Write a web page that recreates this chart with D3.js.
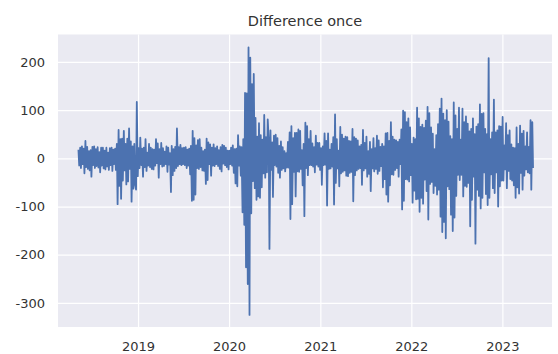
<!DOCTYPE html>
<html>
<head>
<meta charset="utf-8">
<script src="https://cdn.jsdelivr.net/npm/d3@7"></script>
<style>
  body { margin: 0; background: #fff; }
  text { font-family: "DejaVu Sans", sans-serif; fill: #333; }
</style>
</head>
<body>
<div id="chart"></div>
<script>
// two readings per week (monday, thursday), starting week of 2018-05-07
const firstWeek = '2018-05-07';

const diff2018 = [
  18, -15, 22, -20, 25, -12, 20, -31, 36, -18, 24, -22, 15, -25, 17, -38,
  24, -14, 25, -20, 19, -16, 23, -19, 13, -29, 22, -15, 22, -21, 16, -23,
  22, -17, 12, -24, 21, -14, 22, -26, 18, -12, 20, -24, 30, -95, 59, -57,
  40, -84, 41, -46, 57, -25, 30, -54, 41, -48, 62, -22, 35, -90, 25, -63,
  30, -54, -65, 117
];

const diff2019 = [
  -37, 21, -20, 43, -14, 20, -38, 22, -18, 40, -26, 12, -15, 30, -18, 22,
  -22, 19, -23, 18, -15, 40, -10, 31, -40, 19, -12, 32, -17, 21, -16, 14,
  -12, 25, -28, 22, -13, 11, -70, 26, -35, 19, -26, 24, -20, 62, -16, 23,
  -12, 28, -14, 21, -12, 22, -14, 23, -20, 18, -15, 20, -33, 26, -88, 57,
  -86, 42, -75, 27, -20, 38, -22, 40, -18, 22, -25, 15, -26, 18, -53, 41,
  -45, 33, -12, 29, -36, 22, -15, 29, -16, 21, -12, 25, -16, 17, -22, 23,
  -27, 28, -11, 26, -14, 22, -18, 16
];

const diff2020 = [
  -23, 16, -12, 22, -15, 27, -30, 19, -52, 20, -58, 48, -15, 25, -36, 23,
  -112, 40, -138, 136, -226, 135, -261, 230, -325, 209, -114, 154, -47, 175, -62, 84,
  -86, 45, -79, 73, -82, 48, -60, 39, -31, 90, -40, 44, -29, 81, 38, -188,
  58, -24, 33, -80, 47, -14, 49, -17, 42, -30, 26, -40, 35, -24, 23, -21,
  15, -27, 11, -19, 34, -19, 54, -126, 67, -95, 42, -28, 53, -79, 53, -27,
  60, -28, 57, -22, 17, -56, 30, -120, 74, -20, 67, -35, 40, -14, 57, -14,
  31, -17, 23, -29, 47, -13, 32, -17
];

const diff2021 = [
  32, -24, 21, -55, 25, -14, 52, -13, 36, -98, 52, -22, 18, -21, 30, -17,
  44, -96, 91, -51, 40, -21, 16, -58, 65, -31, 49, -28, 41, -25, 45, -36,
  44, -37, 36, -30, 35, -28, 61, -89, 44, -35, 41, -25, 37, -22, 25, -20,
  28, -55, 59, -25, 32, -21, 45, -38, 15, -32, 34, -68, 19, -21, 42, -27,
  21, -22, 47, -32, 37, -26, 24, -16, 30, -60, 25, -43, 52, -75, 53, -90,
  36, -56, 75, -33, 45, -34, 39, -24, 37, -20, 34, -38, 39, -12, 60, -106,
  99, -88, 96, -43, 75, -44, 83, -48
];

const diff2022 = [
  64, -35, 30, -92, 43, -67, 40, -85, 105, -84, 83, -111, 65, -82, 70, -94,
  63, -44, 78, -68, 107, -127, 94, -53, 64, -49, 51, -72, 19, -57, 48, -75,
  71, -65, 103, -121, 124, -153, 93, -132, 79, -166, 100, -58, 76, -64, 46, -117,
  40, -151, 116, -123, 89, -78, 61, -34, 105, -45, 39, -34, 103, -79, 75, -57,
  87, -59, 72, -51, 56, -141, 61, -86, 83, -38, 50, -177, 66, -65, 71, -78,
  112, -104, 92, -82, 94, -29, 61, -74, 50, -97, 208, -82, 40, -33, 54, -62,
  122, -72, 54, -29, 58, -100, 67, -58
];

const diff2023 = [
  66, -46, 86, -46, 27, -23, 73, -62, 48, -26, 58, -43, 29, -46, 22, -56,
  21, -82, 64, -60, 30, -73, 68, -30, 51, -65, 57, -36, 25, -23, 54, -29,
  24, -31, 79, -65, 75, -20
];

const yTicks = [200, 100, 0, -100, -200, -300];
const xTickYears = [2019, 2020, 2021, 2022, 2023];

const draw = () => {
    const values = [...diff2018, ...diff2019, ...diff2020, ...diff2021, ...diff2022, ...diff2023];
    const start = d3.timeParse('%Y-%m-%d')(firstWeek);
    const dataSet = values.map((value, i) => ({
        date: d3.timeDay.offset(start, Math.floor(i / 2) * 7 + (i % 2) * 3),
        value
    }));

    const xAccessor = d => d.date;
    const yAccessor = d => d.value;

    // dimensions
    const dimensions = {
        width: 558,
        height: 354,
        margin: {
            top: 34.5,
            bottom: 27,
            left: 58,
            right: 6,
        }
    }
    dimensions.containerWidth = dimensions.width - dimensions.margin.left - dimensions.margin.right;
    dimensions.containerHeight = dimensions.height - dimensions.margin.top - dimensions.margin.bottom;

    const svg = d3.select('#chart')
        .append('svg')
        .attr('width', dimensions.width)
        .attr('height', dimensions.height);

    const container = svg.append('g')
        .attr('transform', `translate(${dimensions.margin.left}, ${dimensions.margin.top})`);

    // scales
    const xScale = d3.scaleTime()
        .domain([new Date(2018, 1, 14), new Date(2023, 6, 19)])
        .range([0, dimensions.containerWidth]);

    const yScale = d3.scaleLinear()
        .domain([-350, 257])
        .range([dimensions.containerHeight, 0]);

    // background
    container.append('rect')
        .attr('width', dimensions.containerWidth)
        .attr('height', dimensions.containerHeight)
        .attr('fill', '#eaeaf2');

    // grid + labels
    const xAxis = d3.axisBottom(xScale)
        .tickValues(xTickYears.map(y => new Date(y, 0, 1)))
        .tickFormat(d3.timeFormat('%Y'))
        .tickSize(-dimensions.containerHeight)
        .tickPadding(15);

    const xAxisGroup = container.append('g')
        .attr('transform', `translate(0, ${dimensions.containerHeight})`)
        .call(xAxis);

    const yAxis = d3.axisLeft(yScale)
        .tickValues(yTicks)
        .tickFormat(d => String(d))
        .tickSize(-dimensions.containerWidth)
        .tickPadding(13);

    const yAxisGroup = container.append('g')
        .call(yAxis);

    [xAxisGroup, yAxisGroup].forEach(group => {
        group.select('.domain').remove();
        group.selectAll('line')
            .attr('stroke', '#fff')
            .attr('stroke-width', 1.2);
        group.selectAll('text')
            .style('font-size', '13px')
            .attr('fill', '#333');
    });

    // line
    const lineGenerator = d3.line()
        .x(d => xScale(xAccessor(d)))
        .y(d => yScale(yAccessor(d)));

    container.append('path')
        .datum(dataSet)
        .attr('d', lineGenerator)
        .attr('fill', 'none')
        .attr('stroke', '#4c72b0')
        .attr('stroke-width', 1.8)
        .attr('stroke-linejoin', 'round');

    // title
    svg.append('text')
        .attr('x', dimensions.margin.left + dimensions.containerWidth / 2)
        .attr('y', 26)
        .attr('text-anchor', 'middle')
        .style('font-size', '14.5px')
        .text('Difference once');
}

draw();
</script>
</body>
</html>
